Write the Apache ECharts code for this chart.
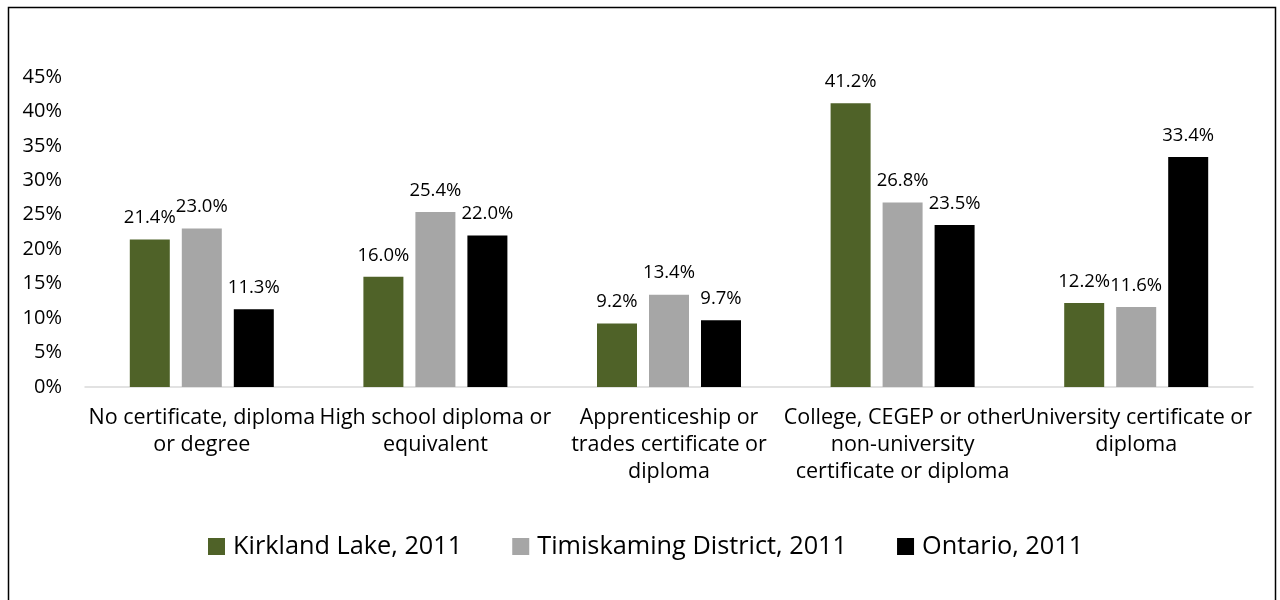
<!DOCTYPE html>
<html><head><meta charset="utf-8">
<script src="https://cdn.jsdelivr.net/npm/echarts@6/dist/echarts.min.js"></script>
<style>html,body{margin:0;padding:0;background:#fff}#c{width:1280px;height:600px}</style>
</head><body><div id="c"></div>
<script>
const categories = [
  "No certificate, diploma\nor degree",
  "High school diploma or\nequivalent",
  "Apprenticeship or\ntrades certificate or\ndiploma",
  "College, CEGEP or other\nnon-university\ncertificate or diploma",
  "University certificate or\ndiploma"
];
const seriesNames = ["Kirkland Lake, 2011", "Timiskaming District, 2011", "Ontario, 2011"];
const kirklandLake = [21.4, 16.0, 9.2, 41.2, 12.2];
const timiskaming = [23.0, 25.4, 13.4, 26.8, 11.6];
const ontario = [11.3, 22.0, 9.7, 23.5, 33.4];
const colors = ["#4F6228", "#A6A6A6", "#000000"];
const FONT = "Open Sans";

const chart = echarts.init(document.getElementById('c'));
const mk = (name, data, color) => ({
  name, type: 'bar', data, barWidth: 40, barGap: '30%',
  itemStyle: {color},
  label: {show: true, position: 'top', distance: 12, formatter: p => p.value.toFixed(1) + '%',
    color: '#000', fontFamily: FONT, fontSize: 18.5}
});
chart.setOption({
  animation: false,
  graphic: [{type: 'rect', shape: {x: 8.5, y: 7.5, width: 1267, height: 600}, style: {fill: 'none', stroke: '#000', lineWidth: 1.5}, z: -1}],
  grid: {left: 85, right: 27, top: 77, bottom: 213},
  legend: {top: 534, left: 208, padding: 0, itemWidth: 17, itemHeight: 17, itemGap: 50, icon: 'rect',
    textStyle: {fontFamily: FONT, fontSize: 25.3, color: '#000', padding: [0, 0, 0, 3]}},
  xAxis: {type: 'category', data: categories,
    axisLine: {lineStyle: {color: '#D9D9D9', width: 1.5}}, axisTick: {show: false},
    axisLabel: {interval: 0, fontFamily: FONT, fontSize: 21.5, color: '#000', lineHeight: 27, margin: 17}},
  yAxis: {type: 'value', min: 0, max: 45, interval: 5, splitLine: {show: false},
    axisLabel: {formatter: v => v + '%', fontFamily: FONT, fontSize: 20, color: '#000', margin: 23}},
  series: [mk(seriesNames[0], kirklandLake, colors[0]), mk(seriesNames[1], timiskaming, colors[1]), mk(seriesNames[2], ontario, colors[2])]
});
</script></body></html>
